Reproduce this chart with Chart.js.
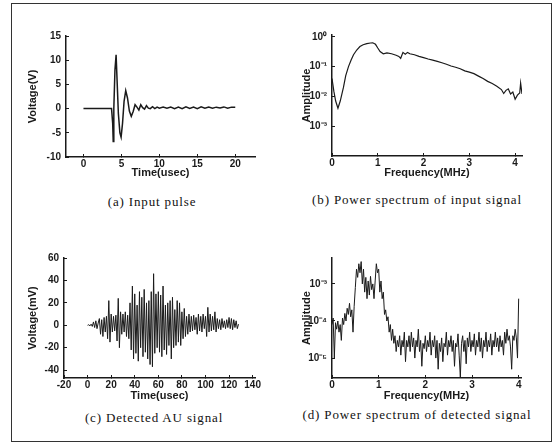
<!DOCTYPE html>
<html>
<head>
<meta charset="utf-8">
<script src="https://cdn.jsdelivr.net/npm/chart.js@4.4.0/dist/chart.umd.min.js"></script>
<style>
  body { margin: 0; width: 555px; height: 446px; background: #fff; position: relative; overflow: hidden; }
  #frame { position: absolute; left: 11px; top: 3px; width: 539px; height: 437px; border: 1px solid #333; }
  canvas { position: absolute; }
  .cap { position: absolute; font-family: 'Liberation Serif', 'DejaVu Serif', serif; font-size: 13px; letter-spacing: 0.85px; color: #111; transform: translate(-50%, -50%); white-space: nowrap; }
</style>
</head>
<body>
<div id="frame"></div>
<canvas id="ca" width="260" height="160" style="left:10px;top:20px"></canvas>
<canvas id="cb" width="260" height="160" style="left:280px;top:20px"></canvas>
<canvas id="cc" width="260" height="163" style="left:10px;top:240px"></canvas>
<canvas id="cd" width="260" height="163" style="left:280px;top:240px"></canvas>
<div class="cap" style="left:152px;top:202px">(a) Input pulse</div>
<div class="cap" style="left:417px;top:200px">(b) Power spectrum of input signal</div>
<div class="cap" style="left:154px;top:418px">(c) Detected AU signal</div>
<div class="cap" style="left:417px;top:415px">(d) Power spectrum of detected signal</div>
<script>
// (a) input pulse, time in usec / volts
const tA = [0, 1.5, 3, 3.7, 3.85, 3.92, 4.0, 4.15, 4.3, 4.45, 4.6, 4.8, 4.96,
  5.15, 5.35, 5.57, 5.8, 6.05, 6.3, 6.55, 6.8, 7.05, 7.3, 7.55, 7.8, 8.05, 8.3, 8.55, 8.8,
  9.1, 9.4, 9.7, 10, 10.5, 11, 11.5, 12, 12.5, 13, 13.5, 14, 14.5, 15, 15.5, 16, 16.5,
  17, 17.5, 18, 18.5, 19, 19.5, 20];
const vA = [0, 0, 0, 0, -3, -6.8, 0, 8, 11.1, 5, -1, -5, -5.9,
  -3, 1.5, 3.7, 2.2, -0.5, -1.6, -0.6, 0.8, 0.3, -0.3, 0.8, 0.2, -0.1, 0.6, 0.1, 0,
  0.4, 0, 0.3, 0.1, 0.3, 0.1, 0.3, 0, 0.3, 0, 0.35, 0.05, 0.3, 0, 0.35, 0.1, 0.3,
  0.1, 0.3, 0.15, 0.35, 0.1, 0.3, 0.3];
const ticksAx = [0, 5, 10, 15, 20];
const ticksAy = [-10, -5, 0, 5, 10, 15];

// (b) power spectrum of input signal
const fB = [0, 0.04, 0.08, 0.13, 0.18, 0.25, 0.3, 0.36, 0.42, 0.47,
  0.54, 0.61, 0.68, 0.76, 0.84, 0.89, 0.95, 1.0, 1.05, 1.12,
  1.2, 1.3, 1.4, 1.46, 1.5, 1.55, 1.6, 1.65, 1.7, 1.8,
  1.9, 2.0, 2.1, 2.2, 2.3, 2.4, 2.5, 2.6, 2.7, 2.8,
  2.9, 3.0, 3.1, 3.2, 3.3, 3.4, 3.5, 3.6, 3.7,
  3.75, 3.8, 3.85, 3.9, 3.95, 4.0, 4.05, 4.1, 4.12, 4.15];
const aB = [0.04, 0.015, 0.007, 0.004, 0.007, 0.02, 0.05, 0.1, 0.17, 0.25,
  0.36, 0.47, 0.54, 0.59, 0.62, 0.63, 0.56, 0.42, 0.32, 0.27,
  0.29, 0.27, 0.24, 0.22, 0.19, 0.3, 0.26, 0.3, 0.27, 0.25,
  0.22, 0.2, 0.18, 0.165, 0.15, 0.135, 0.12, 0.105, 0.095, 0.085,
  0.072, 0.065, 0.058, 0.048, 0.04, 0.032, 0.027, 0.022, 0.017,
  0.0125, 0.016, 0.018, 0.012, 0.014, 0.008, 0.011, 0.013, 0.028, 0.012];
const ticksBx = [0, 1, 2, 3, 4];
const ticksBy = [0.001, 0.01, 0.1, 1];
const labsBy = ['10⁻³', '10⁻²', '10⁻¹', '10⁰'];

// (c) detected AU signal, one sample per usec, mV
const dtC = 1;
const vC = [0, 0.5, -0.5, 1, -1,
  3, -2, 4, -3, 2,
  6, -8, 5, -10, 7,
  -6, 8, -12, 22, -15,
  10, -6, 8, -5, 9,
  -14, 24, -20, 12, -8,
  10, -6, 12, -10, 9,
  -12, 20, -22, 35, -30,
  28, -25, 18, -32, 30,
  -20, 25, -28, 32, -24,
  20, -30, 22, -35, 30,
  -37, 46, -25, 28, -20,
  30, -24, 27, -28, 35,
  -22, 18, -26, 20, -18,
  22, -30, 25, -20, 14,
  -18, 22, -15, 20, -18,
  12, -12, 15, -10, 8,
  -8, 10, -6, 8, -5,
  9, -4, 7, -8, 10,
  -5, 8, -6, 10, -3,
  8, -10, 16, -6, 10,
  -5, 8, -4, 12, -6,
  6, -3, 5, -4, 6,
  -2, 4, -3, 5, -2,
  7, -3, 6, -4, 5,
  -2, 4, -3, 1];
const ticksCx = [-20, 0, 20, 40, 60, 80, 100, 120, 140];
const ticksCy = [-40, -20, 0, 20, 40, 60];

// (d) power spectrum of detected signal, 0.025 MHz bins
const dfD = 0.025;
const aD = [
  8e-5, 1.2e-4, 1e-5, 9e-5, 6e-5, 1e-4, 5e-5, 8e-5,
  3e-5, 1.2e-4, 8e-5, 1.6e-4, 1e-4, 2.2e-4, 1.5e-4, 3e-4,
  1.3e-4, 2e-4, 5e-5, 2.5e-4, 8e-4, 2.5e-3, 1.5e-3, 3.5e-3,
  2e-3, 4e-3, 1e-3, 2.5e-3, 6e-4, 1.5e-3, 4e-4, 1.2e-3,
  5e-4, 1.6e-3, 7e-4, 1e-3, 4e-4, 1.2e-3, 3.5e-3, 2e-3,
  2.5e-3, 6e-4, 1.2e-3, 4e-4, 6e-4, 1.5e-4, 2e-4, 1e-4,
  1.3e-4, 5e-5, 8e-5, 3e-5, 6e-5, 2.5e-5, 4e-5, 1.5e-5,
  3e-5, 2e-5, 4e-5, 1.2e-5, 3e-5, 2e-5, 5e-5, 8e-6,
  3e-5, 2e-5, 4e-5, 1.5e-5, 5e-5, 2e-5, 3.5e-5, 1e-5,
  3e-5, 2e-5, 6e-5, 1.5e-5, 3e-5, 6e-6, 2.5e-5, 1.8e-5,
  4e-5, 1.5e-5, 3e-5, 2e-5, 5e-5, 1.2e-5, 3e-5, 2e-5,
  4e-5, 1e-5, 3e-5, 5e-6, 2.5e-5, 1.5e-5, 3.5e-5, 8e-6,
  2.5e-5, 2e-5, 5e-5, 1.2e-5, 3e-5, 2e-5, 4e-5, 1.5e-5,
  3e-5, 6e-6, 2.5e-5, 2e-5, 4.5e-5, 1.2e-5, 3e-6, 2.5e-5,
  4e-5, 1.5e-5, 3e-5, 7e-6, 3.5e-5, 2e-5, 5e-5, 1.5e-5,
  3e-5, 2e-5, 4.5e-5, 1.2e-5, 3e-5, 2e-5, 5e-5, 1.5e-5,
  3.5e-5, 1e-5, 3e-5, 2e-5, 5e-5, 1.5e-5, 3e-5, 2e-5,
  4.5e-5, 1.2e-5, 3e-5, 2e-5, 5e-5, 2e-5, 3.5e-5, 1.5e-5,
  4e-5, 2e-5, 3e-5, 1.2e-5, 5e-5, 2.5e-5, 6e-5, 3e-5,
  4e-5, 2e-5, 5e-6, 4e-5, 3e-5, 6e-5, 3.5e-5, 1e-5,
  4e-4];
const ticksDx = [0, 1, 2, 3, 4];
const ticksDy = [1e-5, 1e-4, 1e-3];
const labsDy = ['10⁻⁵', '10⁻⁴', '10⁻³'];

const ink = '#1a1a1a';
const sans = "'Liberation Sans', Arial, sans-serif";

function pts(xs, ys) {
  return xs.map((x, i) => ({ x: x, y: ys[i] }));
}

// ticks point inwards (negative length), labels sit just outside the axis
function axis(c, gap) {
  return {
    type: c.type || 'linear',
    min: c.min,
    max: c.max,
    afterBuildTicks: s => { s.ticks = c.ticks.map(v => ({ value: v })); },
    afterFit: s => {
      if (c.w) s.width = c.w;
      if (c.h) s.height = c.h;
    },
    grid: { drawOnChartArea: false, color: ink, tickLength: -3, lineWidth: 1 },
    border: { color: ink, width: 1.5 },
    ticks: {
      color: ink, padding: gap + 3, maxRotation: 0, autoSkip: false,
      font: { family: sans, size: 10, weight: 'bold' },
      callback: c.labels ? (v, i) => c.labels[i] : v => v
    },
    title: { display: true, text: c.title, color: ink, padding: 0,
      font: { family: sans, size: 11, weight: 'bold' } }
  };
}

function panel(id, data, lw, pad, x, y) {
  new Chart(document.getElementById(id), {
    type: 'scatter',
    data: { datasets: [{ data: data, showLine: true, borderColor: ink, borderWidth: lw, pointRadius: 0, tension: 0 }] },
    options: {
      responsive: false,
      animation: false,
      layout: { padding: pad },
      plugins: { legend: { display: false }, tooltip: { enabled: false } },
      scales: { x: axis(x, 1), y: axis(y, 5) }
    }
  });
}

panel('ca', pts(tA, vA), 1.5, { left: 16, top: 16, right: 15, bottom: 0 },
  { min: -2.3, max: 22.6, ticks: ticksAx, title: 'Time(usec)', h: 23 },
  { min: -10, max: 15, ticks: ticksAy, title: 'Voltage(V)', w: 40 });

panel('cb', pts(fB, aB), 1.2, { left: 20, top: 15, right: 18, bottom: 0 },
  { min: 0, max: 4.15, ticks: ticksBx, title: 'Frequency(MHz)', h: 24 },
  { type: 'logarithmic', min: 1e-4, max: 1.15, ticks: ticksBy, labels: labsBy, title: 'Amplitude', w: 32 });

panel('cc', pts(vC.map((_, i) => i * dtC), vC), 1, { left: 16, top: 18, right: 15, bottom: 0 },
  { min: -20, max: 142, ticks: ticksCx, title: 'Time(usec)', h: 25 },
  { min: -47, max: 60, ticks: ticksCy, title: 'Voltage(mV)', w: 38 });

panel('cd', pts(aD.map((_, i) => i * dfD), aD), 1, { left: 20, top: 18, right: 19, bottom: 0 },
  { min: 0, max: 4.05, ticks: ticksDx, title: 'Frequency(MHz)', h: 25 },
  { type: 'logarithmic', min: 2.9e-6, max: 5e-3, ticks: ticksDy, labels: labsDy, title: 'Amplitude', w: 32 });
</script>
</body>
</html>
